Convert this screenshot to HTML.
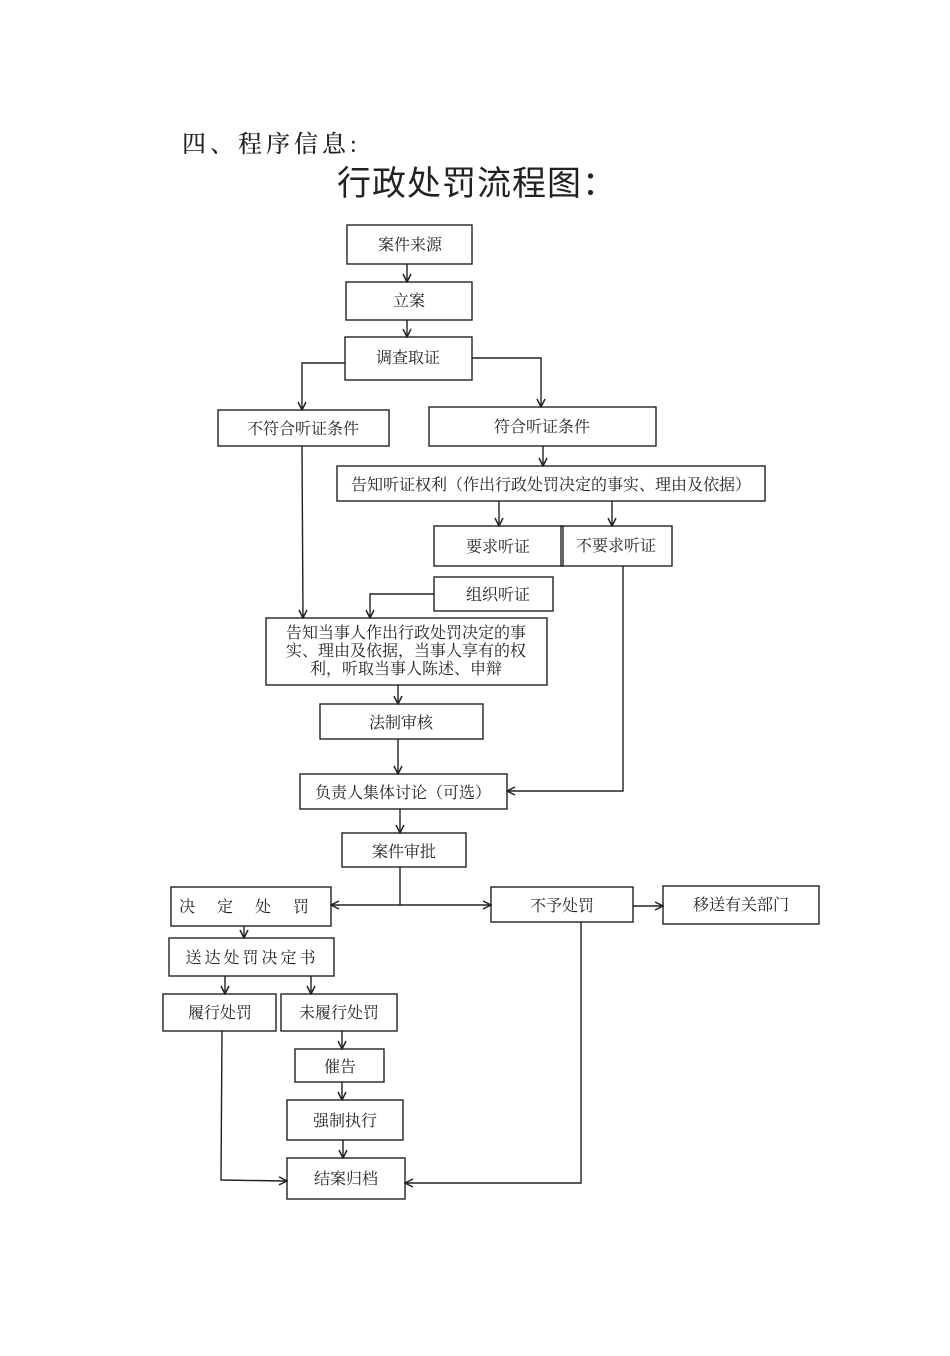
<!DOCTYPE html>
<html><head><meta charset="utf-8"><style>
html,body{margin:0;padding:0;background:#fff;}
svg{display:block}
text{font-family:"Liberation Serif","Noto Serif CJK SC",serif;font-size:16px;fill:#222;}
</style></head><body>
<svg width="950" height="1356" viewBox="0 0 950 1356" xmlns="http://www.w3.org/2000/svg">
<defs><marker id="a" markerWidth="10" markerHeight="10" refX="9" refY="5" orient="auto" markerUnits="userSpaceOnUse"><path d="M1,1 L9,5 L1,9" fill="none" stroke="#222" stroke-width="1.5"/></marker></defs>
<text x="182" y="152" style="font-size:24px;letter-spacing:4px;font-weight:500">四、程序信息:</text>
<text x="337" y="195" style="font-family:'Liberation Sans','Noto Sans CJK SC',sans-serif;font-size:34px;letter-spacing:1px">行政处罚流程图：</text>
<g fill="none" stroke="#222" stroke-width="1.4">
<rect x="347" y="225" width="125" height="39"/>
<rect x="346" y="282" width="126" height="38"/>
<rect x="345" y="337" width="127" height="43"/>
<rect x="218" y="410" width="171" height="36"/>
<rect x="429" y="407" width="227" height="39"/>
<rect x="337" y="466" width="428" height="35"/>
<rect x="434" y="526" width="129" height="40"/>
<rect x="561" y="526" width="111" height="40"/>
<rect x="434" y="577" width="119" height="34"/>
<rect x="266" y="618" width="281" height="67"/>
<rect x="320" y="704" width="163" height="35"/>
<rect x="300" y="774" width="207" height="35"/>
<rect x="342" y="833" width="124" height="34"/>
<rect x="171" y="887" width="160" height="39"/>
<rect x="491" y="887" width="142" height="35"/>
<rect x="663" y="886" width="156" height="38"/>
<rect x="169" y="938" width="165" height="38"/>
<rect x="163" y="994" width="113" height="37"/>
<rect x="281" y="994" width="116" height="37"/>
<rect x="295" y="1049" width="89" height="33"/>
<rect x="287" y="1100" width="116" height="40"/>
<rect x="287" y="1158" width="118" height="41"/>
</g>
<g fill="none" stroke="#222" stroke-width="1.4" marker-end="url(#a)">
<path d="M407,264 V282"/>
<path d="M407,320 V337"/>
<path d="M345,363 H302 V410"/>
<path d="M472,358 H541 V407"/>
<path d="M302,446 L303,618"/>
<path d="M543,446 V466"/>
<path d="M499,501 V526"/>
<path d="M612,501 V526"/>
<path d="M434,594 H370 V618"/>
<path d="M623,566 V791 H507"/>
<path d="M398,685 V704"/>
<path d="M398,739 V774"/>
<path d="M400,809 V833"/>
<path d="M400,867 V905 H491"/>
<path d="M400,905 H331"/>
<path d="M633,906 H663"/>
<path d="M244,926 V938"/>
<path d="M225,976 V994"/>
<path d="M311,976 V994"/>
<path d="M342,1031 V1049"/>
<path d="M342,1082 V1100"/>
<path d="M343,1140 V1158"/>
<path d="M222,1031 L221,1180 L287,1181"/>
<path d="M581,922 V1183 H405"/>
</g>
<g text-anchor="middle">
<text x="410" y="250">案件来源</text>
<text x="409" y="306">立案</text>
<text x="408" y="363">调查取证</text>
<text x="303" y="434">不符合听证条件</text>
<text x="542" y="432">符合听证条件</text>
<text x="551" y="490">告知听证权利（作出行政处罚决定的事实、理由及依据）</text>
<text x="498" y="552">要求听证</text>
<text x="616" y="551">不要求听证</text>
<text x="498" y="600">组织听证</text>
<text x="406" y="638">告知当事人作出行政处罚决定的事</text>
<text x="406" y="656">实、理由及依据，当事人享有的权</text>
<text x="406" y="674">利，听取当事人陈述、申辩</text>
<text x="401" y="728">法制审核</text>
<text x="403" y="798">负责人集体讨论（可选）</text>
<text x="404" y="857">案件审批</text>
<text x="255" y="912" style="letter-spacing:22px">决定处罚</text>
<text x="562" y="911">不予处罚</text>
<text x="741" y="910">移送有关部门</text>
<text x="252" y="963" style="letter-spacing:3px">送达处罚决定书</text>
<text x="220" y="1018">履行处罚</text>
<text x="339" y="1018">未履行处罚</text>
<text x="340" y="1072">催告</text>
<text x="345" y="1126">强制执行</text>
<text x="346" y="1184">结案归档</text>
</g>
</svg>
</body></html>
